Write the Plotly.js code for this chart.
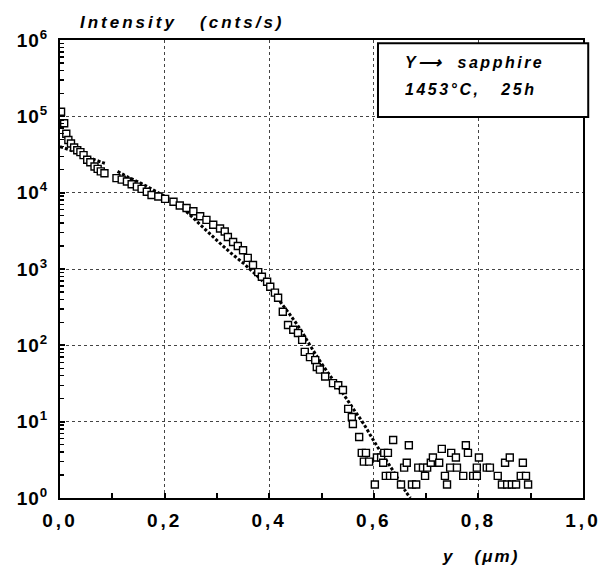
<!DOCTYPE html>
<html>
<head>
<meta charset="utf-8">
<script src="https://cdn.plot.ly/plotly-3.0.1.min.js"></script>
<style>
  html, body { margin: 0; padding: 0; background: #fff; }
  #chart { width: 610px; height: 566px; }
</style>
</head>
<body>
<div id="chart"></div>
<script>
// Measured intensity (open squares)
const measX = [
  0.002, 0.008, 0.012, 0.016, 0.021, 0.027, 0.033, 0.039, 0.045, 0.052, 0.058, 0.066, 0.072, 0.078, 0.085,
  0.108, 0.118, 0.128, 0.137, 0.147, 0.156, 0.166, 0.175, 0.188, 0.201, 0.217, 0.229, 0.242, 0.255, 0.268,
  0.280, 0.293, 0.306, 0.315, 0.321, 0.331, 0.340, 0.350, 0.359, 0.369, 0.379, 0.386, 0.396, 0.402, 0.411,
  0.417, 0.426, 0.436, 0.446, 0.455, 0.463, 0.468, 0.478, 0.488, 0.491, 0.497, 0.507, 0.522, 0.532, 0.541,
  0.551, 0.558, 0.560, 0.572, 0.577, 0.581, 0.585, 0.591, 0.602, 0.606, 0.614,
  0.618, 0.620, 0.623, 0.627, 0.631, 0.637, 0.639, 0.652, 0.658, 0.663, 0.667, 0.673, 0.681, 0.685, 0.694,
  0.698, 0.702, 0.709, 0.713, 0.725, 0.730, 0.736, 0.740, 0.746, 0.748, 0.757, 0.759, 0.771, 0.776, 0.780,
  0.790, 0.797, 0.797, 0.801, 0.816, 0.822, 0.837, 0.845, 0.851, 0.855, 0.860, 0.864, 0.872, 0.881, 0.885,
  0.891, 0.895
];
const measY = [
  115000, 81000, 59000, 49000, 44000, 39000, 36000, 34000, 31000, 27000, 25000, 22000, 20500, 19000, 18000,
  15500, 14800, 14000, 12900, 12000, 11200, 10300, 9300, 8900, 8300, 7600, 6800, 6300, 5700, 4900,
  4400, 3800, 3400, 3100, 2630, 2260, 2000, 1760, 1400, 1130, 910, 790, 680, 585, 490,
  420, 275, 185, 160, 145, 118, 82, 70, 64, 52, 48, 39, 32, 30, 26,
  14.7, 11.5, 9.3, 6.3, 3.9, 3.0, 3.9, 3.0, 1.5, 3.4, 3.4,
  2.9, 3.9, 1.95, 3.9, 1.95, 5.75, 1.95, 1.5, 2.5, 2.9, 4.9, 1.5, 1.5, 2.5, 2.5,
  1.95, 2.5, 2.9, 3.4, 2.9, 4.4, 1.95, 1.5, 2.5, 3.9, 3.4, 2.5, 1.95, 4.9, 3.9,
  1.95, 1.95, 2.5, 3.4, 2.5, 2.5, 1.95, 1.5, 2.9, 1.5, 3.4, 1.5, 1.5, 1.95, 2.9,
  1.95, 1.5
];

// Fitted profile (dotted curve); null marks the gap in the curve
const fitX = [
  0.000, 0.020, 0.040, 0.060, 0.080, 0.088, null,
  0.110, 0.130, 0.150, 0.170, 0.190, 0.210, 0.230, 0.250, 0.270, 0.290, 0.310, 0.330, 0.350, 0.370, 0.390,
  0.400, 0.420, 0.440, 0.460, 0.480, 0.500, 0.520, 0.540, 0.560, 0.580, 0.600, 0.620, 0.640, 0.660, 0.670
];
const fitY = [
  40000, 36000, 31500, 28000, 25000, 24000, null,
  19000, 16000, 13800, 11700, 9800, 8200, 6600, 5000, 3700, 2750, 2050, 1550, 1200, 900, 670,
  570, 380, 250, 160, 95, 58, 37, 24, 15, 9.5, 5.6, 3.4, 2.1, 1.25, 1.0
];

// Tick labels
const xTickVals = [0, 0.2, 0.4, 0.6, 0.8, 1.0];
const xTickText = ['0,0', '0,2', '0,4', '0,6', '0,8', '1,0'];
const yTickVals = [1, 10, 100, 1000, 10000, 100000, 1000000];
const yTickText = ['10<sup>0</sup>', '10<sup>1</sup>', '10<sup>2</sup>', '10<sup>3</sup>',
                   '10<sup>4</sup>', '10<sup>5</sup>', '10<sup>6</sup>'];

// minor (unlabelled) log tick positions: 2..9 within each decade
const yMinorVals = [];
for (let d = 0; d < 6; d++) {
  for (let m = 2; m <= 9; m++) yMinorVals.push(m * Math.pow(10, d));
}

const FONT = 'Liberation Sans, Arial, Helvetica, sans-serif';

const traces = [
  {
    x: fitX, y: fitY, type: 'scatter', mode: 'lines', connectgaps: false,
    line: { color: '#000', width: 3, dash: '3px,2px', shape: 'spline' },
    hoverinfo: 'skip', showlegend: false
  },
  {
    x: measX, y: measY, type: 'scatter', mode: 'markers',
    marker: { symbol: 'square', size: 7, color: '#fff', line: { color: '#000', width: 1.4 } },
    showlegend: false
  }
];

const layout = {
  width: 610, height: 566,
  margin: { l: 60, r: 27, t: 40, b: 68 },
  paper_bgcolor: '#fff', plot_bgcolor: '#fff',
  showlegend: false,
  font: { family: FONT, color: '#000' },
  xaxis: {
    range: [0, 1], tickmode: 'array', tickvals: xTickVals, ticktext: xTickText,
    ticks: 'inside', ticklen: 5, tickwidth: 2, tickcolor: '#000',
    showline: true, linecolor: '#000', linewidth: 2, mirror: true,
    showgrid: true, gridcolor: '#444', griddash: 'dot', gridwidth: 1,
    zeroline: false, ticklabelstandoff: 4,
    tickfont: { family: FONT, size: 19, weight: 'bold', color: '#000' },
    minor: { tickmode: 'array', tickvals: [0.1, 0.3, 0.5, 0.7, 0.9], ticks: 'inside', ticklen: 5,
             tickwidth: 2, tickcolor: '#000', showgrid: false }
  },
  yaxis: {
    type: 'log', range: [0, 6], tickmode: 'array', tickvals: yTickVals, ticktext: yTickText,
    ticks: 'inside', ticklen: 5, tickwidth: 2, tickcolor: '#000',
    showline: true, linecolor: '#000', linewidth: 2, mirror: true,
    showgrid: true, gridcolor: '#444', griddash: 'dot', gridwidth: 1,
    zeroline: false, ticklabelstandoff: 6,
    tickfont: { family: FONT, size: 19, weight: 'bold', color: '#000' },
    minor: { tickmode: 'array', tickvals: yMinorVals, ticks: 'inside', ticklen: 4, tickwidth: 1.5,
             tickcolor: '#000', showgrid: false }
  },
  shapes: [
    { type: 'rect', xref: 'paper', yref: 'paper', x0: 0.608, x1: 1.01, y0: 0.832, y1: 0.993,
      line: { color: '#000', width: 2 }, fillcolor: '#fff', layer: 'above' }
  ],
  annotations: [
    { xref: 'paper', yref: 'paper', x: 0.034, y: 1.039, xanchor: 'left', yanchor: 'middle', align: 'left',
      text: 'Intensity\u00a0\u00a0\u00a0(cnts/s)', showarrow: false,
      font: { family: FONT, size: 17, weight: 'bold', style: 'italic', color: '#000' } },
    { xref: 'paper', yref: 'paper', x: 0.727, y: -0.127, xanchor: 'left', yanchor: 'middle', align: 'left',
      text: 'y\u00a0\u00a0\u00a0(\u03bcm)', showarrow: false,
      font: { family: FONT, size: 17, weight: 'bold', style: 'italic', color: '#000' } },
    { xref: 'paper', yref: 'paper', x: 0.656, y: 0.950, xanchor: 'left', yanchor: 'middle', align: 'left',
      text: 'Y\u27f6\u00a0\u00a0sapphire', showarrow: false,
      font: { family: FONT, size: 16, weight: 'bold', style: 'italic', color: '#000' } },
    { xref: 'paper', yref: 'paper', x: 0.656, y: 0.891, xanchor: 'left', yanchor: 'middle', align: 'left',
      text: '1453\u00b0C,\u00a0\u00a0\u00a025h', showarrow: false,
      font: { family: FONT, size: 16, weight: 'bold', style: 'italic', color: '#000' } }
  ]
};

Plotly.newPlot('chart', traces, layout, { staticPlot: true, displayModeBar: false }).then(function () {
  const spacing = ['3', '2', '2.5', '2.5'];
  document.querySelectorAll('.annotation-text').forEach(function (el, i) {
    el.setAttribute('letter-spacing', spacing[i] || '2');
  });
  document.querySelectorAll('.xtick text').forEach(function (el) {
    el.setAttribute('letter-spacing', '3');
  });
  document.querySelectorAll('.ytick text').forEach(function (el) {
    el.setAttribute('letter-spacing', '1');
  });
});
</script>
</body>
</html>
